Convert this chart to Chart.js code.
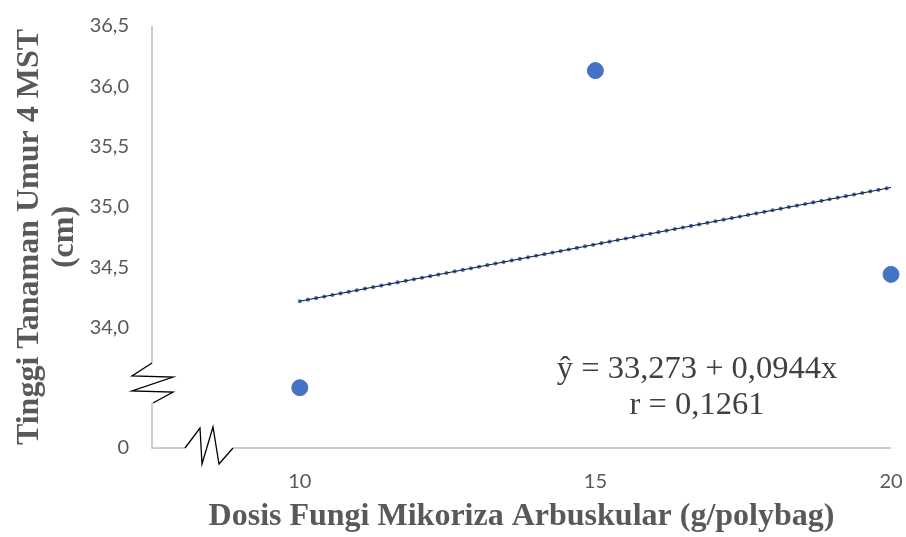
<!DOCTYPE html>
<html>
<head>
<meta charset="utf-8">
<script src="https://cdn.jsdelivr.net/npm/chart.js@4.4.1/dist/chart.umd.min.js"></script>
<style>
  html, body { margin: 0; padding: 0; background: #fff; }
  #wrap { width: 906px; height: 537px; }
</style>
</head>
<body>
<div id="wrap"><canvas id="myChartCanvas" width="906" height="537"></canvas></div>
<script>
// observed plant height per dose
const dosis = [10, 15, 20];
const tinggi = [33.50, 36.13, 34.44];

// regression line as printed on the chart
const intercept = 33.273;
const slope = 0.0944;
const eqLines = ['ŷ = 33,273 + 0,0944x', 'r = 0,1261'];

// axis ticks; the lowest y tick sits below the break and reads "0"
const xTicks = [10, 15, 20];
const yTicks = [33, 34, 34.5, 35, 35.5, 36, 36.5];
const yTickLabels = ['0', '34,0', '34,5', '35,0', '35,5', '36,0', '36,5'];

const blue = '#4472C4';
const grey = '#595959';
const serif = '"Liberation Serif", "Times New Roman", serif';
const sans = 'Lato, "Open Sans", sans-serif';

const points = dosis.map((d, i) => ({ x: d, y: tinggi[i] }));
const trend = [dosis[0], dosis[dosis.length - 1]].map(d => ({ x: d, y: intercept + slope * d }));

// axis lines with zigzag break marks, plus the equation text
const axisBreaks = {
  id: 'axisBreaks',
  beforeDatasetsDraw(chart) {
    const { ctx, chartArea: a } = chart;
    const x0 = a.left, y0 = a.bottom;
    ctx.save();
    ctx.lineWidth = 1.5;
    ctx.strokeStyle = '#BFBFBF';
    ctx.beginPath();
    // y axis, broken
    ctx.moveTo(x0, a.top); ctx.lineTo(x0, y0 - 85);
    ctx.moveTo(x0, y0 - 45); ctx.lineTo(x0, y0);
    // x axis, broken
    ctx.lineTo(x0 + 33, y0);
    ctx.moveTo(x0 + 81, y0); ctx.lineTo(a.right, y0);
    ctx.stroke();

    ctx.strokeStyle = '#000';
    ctx.lineWidth = 1.3;
    ctx.beginPath();
    ctx.moveTo(x0, y0 - 85);
    ctx.lineTo(x0 - 20, y0 - 72);
    ctx.lineTo(x0 + 21, y0 - 71);
    ctx.lineTo(x0 - 20, y0 - 57);
    ctx.lineTo(x0 + 21, y0 - 56);
    ctx.lineTo(x0 + 1, y0 - 45);
    ctx.stroke();

    ctx.beginPath();
    ctx.moveTo(x0 + 33, y0);
    ctx.lineTo(x0 + 48, y0 - 20);
    ctx.lineTo(x0 + 50, y0 + 16);
    ctx.lineTo(x0 + 61, y0 - 21);
    ctx.lineTo(x0 + 67, y0 + 16);
    ctx.lineTo(x0 + 81, y0);
    ctx.stroke();
    ctx.restore();
  },
  afterDraw(chart) {
    const { ctx } = chart;
    ctx.save();
    ctx.fillStyle = '#404040';
    ctx.font = '32.5px ' + serif;
    ctx.textAlign = 'center';
    ctx.textBaseline = 'middle';
    eqLines.forEach((t, i) => ctx.fillText(t, 697, 369 + i * 36));
    ctx.restore();
  }
};

// hidden grid; tick marks kept only to push the labels away from the axis
const hiddenGrid = len => ({
  display: true,
  drawOnChartArea: false,
  drawTicks: true,
  tickLength: len,
  color: 'rgba(0,0,0,0)'
});

const config = {
  type: 'scatter',
  data: {
    datasets: [
      {
        label: 'Tinggi',
        data: points,
        backgroundColor: blue,
        borderColor: blue,
        pointRadius: 8,
        pointHoverRadius: 8,
        clip: false
      },
      {
        type: 'line',
        label: 'Trend',
        data: trend,
        borderColor: '#1a1a1a',
        borderWidth: 1.1,
        pointRadius: 0,
        fill: false
      },
      {
        type: 'line',
        label: 'Trend dots',
        data: trend,
        borderColor: blue,
        borderWidth: 4.2,
        borderDash: [0, 8.3],
        borderCapStyle: 'round',
        pointRadius: 0,
        fill: false
      }
    ]
  },
  options: {
    responsive: false,
    animation: false,
    layout: { autoPadding: false, padding: { top: 26, right: 15, left: 0, bottom: 0 } },
    plugins: {
      legend: { display: false },
      tooltip: { enabled: false }
    },
    scales: {
      x: {
        type: 'linear',
        min: 7.5,
        max: 20,
        grid: hiddenGrid(22),
        border: { display: false },
        afterBuildTicks: s => { s.ticks = xTicks.map(v => ({ value: v })); },
        afterFit: s => { s.height = 89; },
        ticks: {
          padding: 0,
          color: grey,
          font: { family: sans, size: 20 },
          callback: v => String(v)
        },
        title: {
          display: true,
          text: 'Dosis Fungi Mikoriza Arbuskular (g/polybag)',
          color: grey,
          padding: { top: 0, bottom: 1 },
          font: { family: serif, size: 32, weight: 'bold', lineHeight: 1.2 }
        }
      },
      y: {
        type: 'linear',
        min: 33,
        max: 36.5,
        grid: hiddenGrid(23),
        border: { display: false },
        afterBuildTicks: s => { s.ticks = yTicks.map(v => ({ value: v })); },
        afterFit: s => { s.width = 152; },
        ticks: {
          padding: 0,
          color: grey,
          font: { family: sans, size: 20 },
          callback: v => yTickLabels[yTicks.indexOf(v)]
        },
        title: {
          display: true,
          text: ['Tinggi Tanaman Umur 4 MST', '(cm)'],
          color: grey,
          padding: { top: 12, bottom: 0 },
          font: { family: serif, size: 32, weight: 'bold', lineHeight: 1.1 }
        }
      }
    }
  },
  plugins: [axisBreaks]
};

const canvasEl = document.getElementById('myChartCanvas');
const chart = new Chart(canvasEl, config);
</script>
</body>
</html>
